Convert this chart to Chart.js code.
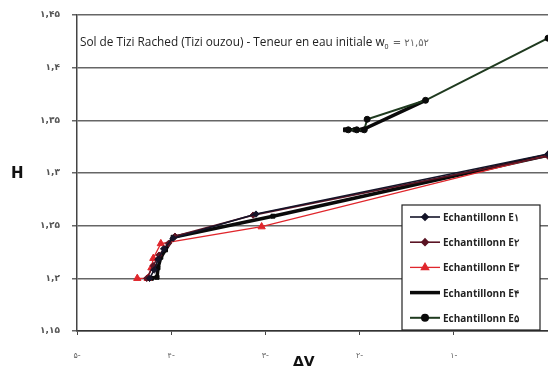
<!DOCTYPE html>
<html>
<head>
<meta charset="utf-8">
<script src="https://cdn.jsdelivr.net/npm/chart.js@4/dist/chart.umd.min.js"></script>
<style>
  html, body { margin: 0; padding: 0; background: #fff; overflow: hidden; }
  #wrap { width: 548px; height: 371px; }
</style>
</head>
<body>
<div id="wrap"><canvas id="chart"></canvas></div>
<script>
"use strict";

// Axes
const xTicks = [-5, -4, -3, -2, -1, 0];
const xTickLabels = ['۵-', '۴-', '۳-', '۲-', '۱-', ''];
const yTicks = [1.15, 1.2, 1.25, 1.3, 1.35, 1.4, 1.45];
const yTickLabels = ['۱,۱۵', '۱,۲', '۱,۲۵', '۱,۳', '۱,۳۵', '۱,۴', '۱,۴۵'];

const titleText = 'Sol de Tizi Rached (Tizi ouzou) - Teneur en eau initiale w';
const titleSub = '0';
const titleEnd = ' = ۲۱,۵۲';
const seriesNames = ['Echantillonn E۱', 'Echantillonn E۲', 'Echantillonn E۳', 'Echantillonn E۴', 'Echantillonn E۵'];

// Echantillon 1 (losanges noirs)
const e1X = [-4.23, -4.18, -4.14, -4.08, -3.98, -3.10, 0];
const e1Y = [1.200, 1.208, 1.218, 1.228, 1.238, 1.261, 1.318];
// Echantillon 2 (losanges bordeaux)
const e2X = [-4.26, -4.19, -4.13, -4.03, -3.96, -3.13, 0];
const e2Y = [1.200, 1.212, 1.222, 1.233, 1.240, 1.260, 1.316];
// Echantillon 3 (triangles rouges)
const e3X = [-4.36, -4.25, -4.21, -4.19, -4.11, -3.04, 0];
const e3Y = [1.200, 1.200, 1.210, 1.219, 1.233, 1.249, 1.317];
// Echantillon 4 (trait épais) - deux tronçons
const e4X = [-4.21, -4.15, -4.14, -4.11, -4.06, -3.98, -2.92, 0, -1.0, -2.15, -2.05, -1.97, -1.30];
const e4Y = [1.200, 1.201, 1.210, 1.220, 1.227, 1.239, 1.259, 1.317, null, 1.341, 1.341, 1.341, 1.369];
// Echantillon 5 (ronds verts)
const e5X = [-2.12, -2.03, -1.95, -1.92, -1.30, 0];
const e5Y = [1.341, 1.341, 1.341, 1.351, 1.369, 1.428];

const styles = [
    { color: '#141428', width: 1.6, point: 'rectRot', radius: 3.2, fill: '#141428' },
    { color: '#5a1424', width: 1.6, point: 'rectRot', radius: 3.2, fill: '#5a1424' },
    { color: '#e0262c', width: 1.3, point: 'triangle', radius: 4.2, fill: '#e0262c' },
    { color: '#0a0a0a', width: 3.5, point: 'rect', radius: 2.8, fill: '#0a0a0a' },
    { color: '#1f3a1f', width: 2, point: 'circle', radius: 3, fill: '#0a0a0a' }
];

function pts(xs, ys) {
    return xs.map((x, i) => ({ x: x, y: ys[i] }));
}
const allData = [pts(e1X, e1Y), pts(e2X, e2Y), pts(e3X, e3Y), pts(e4X, e4Y), pts(e5X, e5Y)];

const datasets = allData.map((d, i) => ({
    label: seriesNames[i],
    data: d,
    borderColor: styles[i].color,
    backgroundColor: styles[i].fill,
    borderWidth: styles[i].width,
    pointStyle: styles[i].point,
    pointRadius: styles[i].radius,
    pointBorderColor: styles[i].fill,
    pointBackgroundColor: styles[i].fill,
    pointBorderWidth: 1,
    spanGaps: false,
    tension: 0
}));
// draw order: thick black under the others
datasets[3].order = 5;

const textPlugin = {
    id: 'texts',
    afterDraw(chart) {
        const ctx = chart.ctx;
        ctx.save();
        ctx.fillStyle = '#222';
        ctx.textBaseline = 'alphabetic';
        ctx.textAlign = 'left';
        // titre dans le graphe
        ctx.font = '11.8px "Open Sans", sans-serif';
        ctx.fillText(titleText, 80, 46);
        let w = ctx.measureText(titleText).width;
        ctx.font = '7px "Open Sans", sans-serif';
        ctx.fillText(titleSub, 80 + w, 49);
        ctx.font = '10px "DejaVu Sans", sans-serif';
        ctx.fillStyle = '#666';
        ctx.fillText(titleEnd, 80 + w + 5, 46);
        // titres des axes
        ctx.fillStyle = '#111';
        ctx.font = 'bold 15px "DejaVu Sans", sans-serif';
        ctx.fillText('H', 11, 178);
        ctx.font = 'bold 14px "DejaVu Sans", sans-serif';
        ctx.fillText('ΔV', 293, 366);
        // légende
        const lx = 402, ly = 205, lw = 138, lh = 125;
        ctx.fillStyle = '#fff';
        ctx.fillRect(lx, ly, lw, lh);
        ctx.strokeStyle = '#222';
        ctx.lineWidth = 1.2;
        ctx.strokeRect(lx, ly, lw, lh);
        seriesNames.forEach((name, i) => {
            const y = 217 + i * 25.2;
            const s = styles[i];
            ctx.strokeStyle = s.color;
            ctx.lineWidth = s.width;
            ctx.beginPath();
            ctx.moveTo(410, y);
            ctx.lineTo(440, y);
            ctx.stroke();
            if (i !== 3) {
                ctx.fillStyle = s.fill;
                ctx.strokeStyle = s.fill;
                Chart.helpers.drawPoint(ctx, { pointStyle: s.point, radius: s.radius, rotation: 0, borderWidth: 1 }, 425, y);
            }
            ctx.fillStyle = '#222';
            ctx.font = 'bold 10px "Open Sans", sans-serif';
            ctx.fillText(name, 443, y + 4);
        });
        ctx.restore();
    }
};

new Chart('chart', {
    type: 'line',
    data: { datasets: datasets },
    options: {
        responsive: true,
        maintainAspectRatio: false,
        animation: false,
        layout: { autoPadding: false, padding: { top: 15, right: 0, left: 0, bottom: 0 } },
        plugins: {
            legend: { display: false },
            title: { display: false },
            tooltip: { enabled: false }
        },
        scales: {
            x: {
                type: 'linear',
                min: -5,
                max: 0,
                afterBuildTicks: s => { s.ticks = xTicks.map(v => ({ value: v })); },
                afterFit: s => { s.height = 40; s.paddingRight = 0; s.paddingLeft = 0; },
                grid: { drawOnChartArea: false, drawTicks: true, tickLength: 4, color: '#444', lineWidth: 1 },
                border: { display: true, color: '#333', width: 1.5 },
                ticks: {
                    padding: 16,
                    color: '#666',
                    font: { family: 'DejaVu Sans', size: 8 },
                    maxRotation: 0,
                    callback: (v) => { const i = xTicks.indexOf(v); return i >= 0 ? xTickLabels[i] : ''; }
                }
            },
            y: {
                type: 'linear',
                min: 1.15,
                max: 1.45,
                afterBuildTicks: s => { s.ticks = yTicks.map(v => ({ value: v })); },
                afterFit: s => { s.width = 77; s.paddingTop = 0; s.paddingBottom = 0; },
                grid: { color: '#666', lineWidth: 1.5, tickLength: 5 },
                border: { display: true, color: '#444', width: 1.5 },
                ticks: {
                    padding: 12,
                    color: '#555',
                    font: { family: 'DejaVu Sans', size: 9, weight: 'bold' },
                    callback: (v) => {
                        const i = yTicks.findIndex(t => Math.abs(t - v) < 1e-6);
                        return i >= 0 ? yTickLabels[i] : '';
                    }
                }
            }
        }
    },
    plugins: [textPlugin]
});
</script>
</body>
</html>
